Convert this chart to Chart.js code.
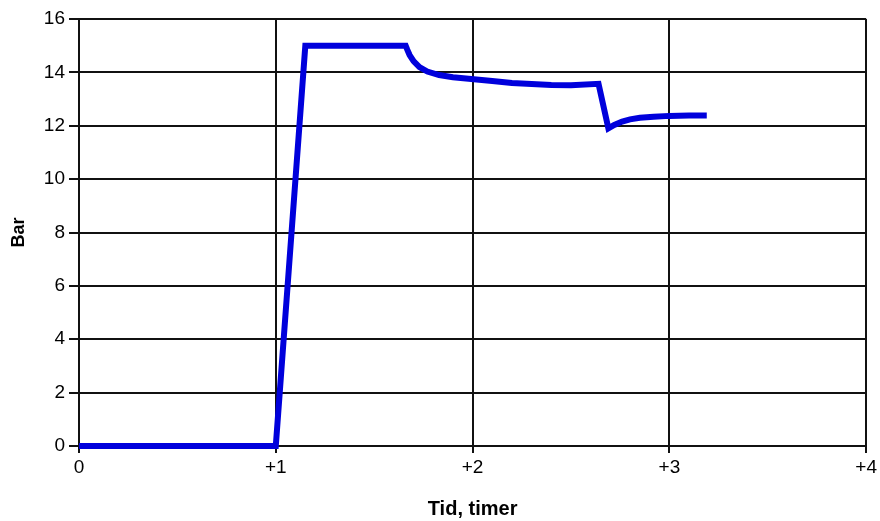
<!DOCTYPE html>
<html>
<head>
<meta charset="utf-8">
<script src="https://cdn.jsdelivr.net/npm/chart.js@4"></script>
<style>
html,body{margin:0;padding:0;background:#fff;}
#wrap{width:880px;height:521px;position:relative;}
</style>
</head>
<body>
<div id="wrap"><canvas id="c" width="880" height="521"></canvas></div>
<script>
const timeHours = [0, 1.0, 1.15, 1.66, 1.668, 1.68, 1.70, 1.73, 1.77, 1.83, 1.9, 1.98, 2.1, 2.2, 2.3, 2.4, 2.5, 2.64, 2.69, 2.72, 2.76, 2.8, 2.85, 2.92, 3.0, 3.1, 3.19];
const pressureBar = [0, 0, 15, 15, 14.85, 14.65, 14.42, 14.2, 14.03, 13.9, 13.82, 13.76, 13.68, 13.6, 13.56, 13.53, 13.52, 13.57, 11.9, 12.03, 12.16, 12.24, 12.3, 12.34, 12.37, 12.38, 12.38];
const xTickLabels = ['0', '+1', '+2', '+3', '+4'];
const yTitle = 'Bar';
const xTitle = 'Tid, timer';

const pts = timeHours.map((t, i) => ({x: t, y: pressureBar[i]}));
const fam = '"Liberation Sans", Arial, sans-serif';
const tickFont = {family: fam, size: 19, weight: 'normal'};

new Chart(document.getElementById('c'), {
  type: 'line',
  data: {
    datasets: [{
      data: pts,
      borderColor: '#0000dc',
      borderWidth: 6,
      pointRadius: 0,
      tension: 0,
      fill: false,
      clip: false,
      borderJoinStyle: 'miter'
    }]
  },
  options: {
    responsive: false,
    animation: false,
    devicePixelRatio: 1,
    layout: {padding: {left: 0, top: 19, right: 12, bottom: 0}},
    plugins: {legend: {display: false}, tooltip: {enabled: false}},
    scales: {
      x: {
        type: 'linear',
        min: 0, max: 4,
        ticks: {
          stepSize: 1,
          color: '#000',
          font: tickFont,
          padding: 3,
          maxRotation: 0,
          callback: (v) => xTickLabels[Math.round(v)] ?? ''
        },
        grid: {color: '#111', lineWidth: 2, tickLength: 7, tickColor: '#111'},
        border: {color: '#111', width: 2},
        title: {display: true, text: xTitle, color: '#000', font: {family: fam, size: 20, weight: 'bold'}, padding: {top: 0, bottom: 0}},
        afterFit: (s) => { s.height = 75; }
      },
      y: {
        min: 0, max: 16,
        ticks: {
          stepSize: 2,
          color: '#000',
          font: tickFont,
          padding: 4
        },
        grid: {color: '#111', lineWidth: 2, tickLength: 10, tickColor: '#111'},
        border: {color: '#111', width: 2},
        title: {display: true, text: yTitle, color: '#000', font: {family: fam, size: 18, weight: 'bold'}, padding: {top: 8, bottom: 0}},
        afterFit: (s) => { s.width = 79; }
      }
    }
  }
});
</script>
</body>
</html>
